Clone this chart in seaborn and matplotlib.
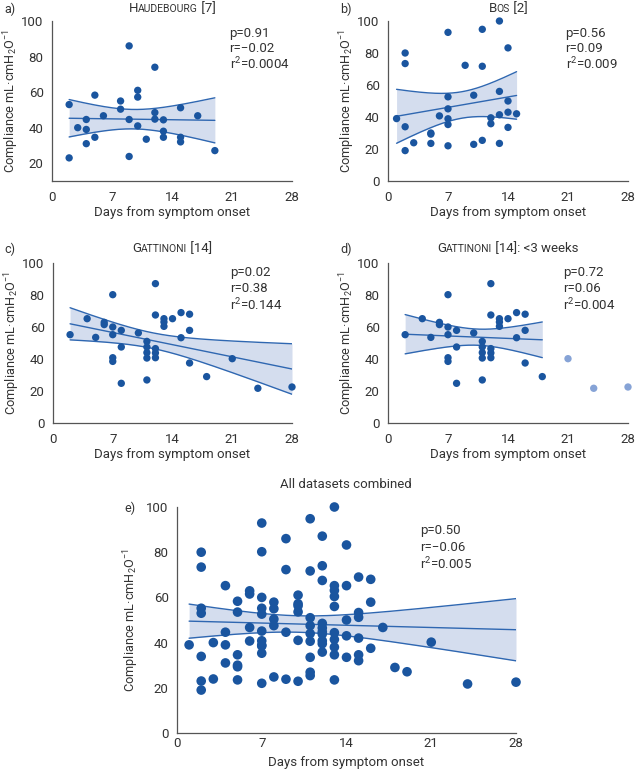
import numpy as np
import pandas as pd
import matplotlib
matplotlib.use("Agg")
import matplotlib.pyplot as plt
import seaborn as sns

# valores (dias desde o inicio dos sintomas, complacencia)
hau_days = [2, 2, 3, 4, 4, 4, 5, 5, 6, 8, 8, 9, 9, 9, 10, 10, 10, 11, 12, 12, 12,
            13, 13, 13, 15, 15, 15, 17, 19]
hau_comp = [53, 23, 40, 44.6, 39, 31, 58.3, 34.6, 46.7, 55, 50.4, 86, 44.6, 23.8,
            61, 57.2, 41, 33.5, 74, 48.5, 44.8, 44.4, 38, 34.6, 51.2, 34.6, 32,
            46.7, 27.1]

bos_days = [1, 2, 2, 2, 2, 3, 5, 5, 5, 6, 7, 7, 7, 7, 7, 7, 9, 10, 10, 11, 11, 11,
            12, 12, 13, 13, 13, 13, 14, 14, 14, 14, 15]
bos_comp = [39, 80, 73.4, 33.9, 19, 23.9, 30, 29.3, 23.5, 40.7, 92.9, 52.6, 45.1,
            38.9, 35.3, 22, 72.3, 53.6, 22.9, 94.8, 71.7, 25.4, 39.5, 35.8, 100,
            56, 41.4, 23.5, 83.2, 50, 43, 33.5, 42]

gat_days = [2, 4, 5, 6, 6, 7, 7, 7, 7, 7, 8, 8, 8, 10, 11, 11, 11, 11, 11, 12, 12,
            12, 12, 12, 13, 13, 13, 14, 15, 15, 16, 16, 16, 18, 21, 24, 28]
gat_comp = [55.2, 65.2, 53.5, 62.9, 61.5, 80.2, 60, 55.2, 40.8, 38.5, 57.9, 47.5,
            24.8, 56.3, 51, 47.5, 44, 40.6, 26.9, 87.1, 67.5, 46.5, 43.8, 40.8,
            65.2, 63.1, 60.4, 65.2, 69, 53.3, 68, 57.9, 37.5, 29, 40.2, 21.7, 22.5]

stats_a = ["p=0.91", "r=\u22120.02", "r$^{2}$=0.0004"]
stats_b = ["p=0.56", "r=0.09", "r$^{2}$=0.009"]
stats_c = ["p=0.02", "r=0.38", "r$^{2}$=0.144"]
stats_d = ["p=0.72", "r=0.06", "r$^{2}$=0.004"]
stats_e = ["p=0.50", "r=\u22120.06", "r$^{2}$=0.005"]

x_ticks = [0, 7, 14, 21, 28]

DOT = "#1a559f"
LINE = "#2f67b1"
BAND = "#d4ddee"
LIGHT = "#86a3d6"
TXT = "#333333"
AXC = "#555555"

W, H = 643, 770

sns.set_style("white")
plt.rcParams["font.family"] = ["Roboto", "DejaVu Sans"]
plt.rcParams["mathtext.fontset"] = "custom"
plt.rcParams["mathtext.rm"] = "Roboto"
plt.rcParams["mathtext.it"] = "Roboto"
plt.rcParams["text.color"] = TXT
plt.rcParams["axes.labelcolor"] = TXT

fig = plt.figure(figsize=(W / 100, H / 100), dpi=100)


def px_axes(left, top, right, bottom):
    return fig.add_axes([left / W, 1 - bottom / H, (right - left) / W, (bottom - top) / H])


def t_crit(df):
    # aproximacao de Cornish-Fisher para t 97.5%
    z = 1.959964
    return z + (z**3 + z) / (4 * df) + (5 * z**5 + 16 * z**3 + 3 * z) / (96 * df**2)


def fit_band(ax, x, y):
    x = np.asarray(x, float)
    y = np.asarray(y, float)
    n = len(x)
    b, a = np.polyfit(x, y, 1)
    xs = np.linspace(x.min(), x.max(), 200)
    yh = a + b * xs
    s = np.sqrt(np.sum((y - (a + b * x)) ** 2) / (n - 2))
    sxx = np.sum((x - x.mean()) ** 2)
    se = s * np.sqrt(1 / n + (xs - x.mean()) ** 2 / sxx)
    lo = yh - t_crit(n - 2) * se
    hi = yh + t_crit(n - 2) * se
    ax.fill_between(xs, lo, hi, color=BAND, lw=0, zorder=1)
    for arr in (lo, yh, hi):
        sns.lineplot(x=xs, y=arr, ax=ax, color=LINE, lw=1.0, zorder=2)


def style_axes(ax, ymin, xdir="out", lab_y=-0.128, lab_x=-0.155):
    ax.set_xlim(0, 28)
    ax.set_ylim(ymin, 100)
    ax.set_xticks(x_ticks)
    ax.set_yticks([v for v in range(0, 101, 20) if v >= ymin])
    sns.despine(ax=ax)
    for sp in ("left", "bottom"):
        ax.spines[sp].set_color(AXC)
        ax.spines[sp].set_linewidth(0.9)
    ax.tick_params(axis="both", length=4, width=0.9, color=AXC, labelcolor=TXT,
                   labelsize=9.5, pad=2)
    ax.tick_params(axis="x", direction=xdir, pad=3)
    ax.tick_params(axis="y", direction="out")
    ax.set_xlabel("Days from symptom onset", fontsize=9.5)
    ax.set_ylabel("Compliance mL\u00b7cmH$_{2}$O$^{\u22121}$", fontsize=9.2)
    ax.yaxis.set_label_coords(lab_y, 0.5)
    ax.xaxis.set_label_coords(0.5, lab_x)
    ax.grid(False)


def dots(ax, x, y, color=DOT, size=28):
    sns.scatterplot(x=x, y=y, ax=ax, color=color, s=size, edgecolor="none",
                    zorder=3, clip_on=False, legend=False)


def stats_text(ax, lines, x, ys, size=9.5):
    for s, yy in zip(lines, ys):
        ax.text(x, yy, s, transform=ax.transAxes, fontsize=size, va="center",
                ha="left", color=TXT)


renderer = fig.canvas.get_renderer()


def text_width(s, size):
    # largura pelo avanco: mede s+"x" e tira "x"
    t1 = fig.text(0, 0, s + "x", fontsize=size)
    t2 = fig.text(0, 0, "x", fontsize=size)
    w = t1.get_window_extent(renderer).width - t2.get_window_extent(renderer).width
    t1.remove()
    t2.remove()
    return w


def smallcaps(cx, y, parts):
    widths = [text_width(s, size) for s, size in parts]
    x = cx - sum(widths) / 2
    for (s, size), w in zip(parts, widths):
        fig.text(x / W, 1 - y / H, s, fontsize=size, va="baseline", ha="left", color=TXT)
        x += w


# a) Haudebourg
ax_a = px_axes(52, 21, 292, 181)
fit_band(ax_a, hau_days, hau_comp)
dots(ax_a, hau_days, hau_comp)
style_axes(ax_a, 10)
stats_text(ax_a, stats_a, 0.74, [0.925, 0.83, 0.73])

# b) Bos
ax_b = px_axes(388, 21, 628, 181)
fit_band(ax_b, bos_days, bos_comp)
dots(ax_b, bos_days, bos_comp)
style_axes(ax_b, 0)
stats_text(ax_b, stats_b, 0.74, [0.925, 0.83, 0.73])

# c) Gattinoni
ax_c = px_axes(53, 263, 292, 423)
fit_band(ax_c, gat_days, gat_comp)
dots(ax_c, gat_days, gat_comp)
style_axes(ax_c, 0)
stats_text(ax_c, stats_c, 0.74, [0.94, 0.84, 0.735])

# d) Gattinoni < 3 semanas
gat = pd.DataFrame({"days": gat_days, "comp": gat_comp})
early = gat[gat["days"] < 21]
late = gat[gat["days"] >= 21]
ax_d = px_axes(388, 263, 628, 423)
fit_band(ax_d, early["days"], early["comp"])
dots(ax_d, early["days"].values, early["comp"].values)
dots(ax_d, late["days"].values, late["comp"].values, color=LIGHT)
style_axes(ax_d, 0)
stats_text(ax_d, stats_d, 0.73, [0.94, 0.84, 0.735])

# e) todos os conjuntos
all_days = hau_days + bos_days + gat_days
all_comp = hau_comp + bos_comp + gat_comp
ax_e = px_axes(177, 507, 516, 733)
fit_band(ax_e, all_days, all_comp)
dots(ax_e, all_days, all_comp, size=48)
style_axes(ax_e, 0, xdir="in", lab_y=-0.105, lab_x=-0.10)
stats_text(ax_e, stats_e, 0.717, [0.894, 0.823, 0.75])

# titulos e letras dos paineis
smallcaps(172, 12, [("H", 9.5), ("AUDEBOURG", 7.5), (" [7]", 9.5)])
smallcaps(508, 12, [("B", 9.5), ("OS", 7.5), (" [2]", 9.5)])
smallcaps(172, 252, [("G", 9.5), ("ATTINONI", 7.5), (" [14]", 9.5)])
smallcaps(508, 252, [("G", 9.5), ("ATTINONI", 7.5), (" [14]: <3 weeks", 9.5)])
fig.text(346 / W, 1 - 488 / H, "All datasets combined", fontsize=9.5, ha="center",
         va="baseline", color=TXT)

for lab, xp, yp in [("a)", 4, 13), ("b)", 340, 13), ("c)", 4, 253),
                    ("d)", 340, 253), ("e)", 124, 512)]:
    fig.text(xp / W, 1 - yp / H, lab, fontsize=9, ha="left", va="baseline", color=TXT)

fig.savefig("out.png", dpi=100, facecolor="white")
plt.close(fig)
